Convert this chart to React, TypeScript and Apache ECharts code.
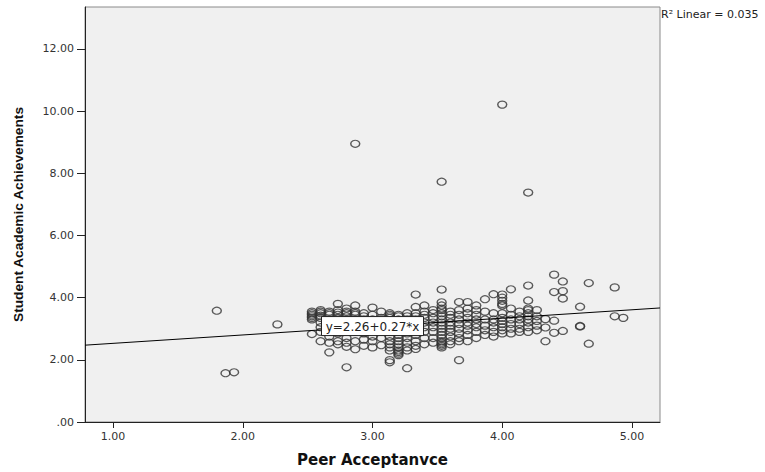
import React, { useEffect, useRef } from "react";
import * as echarts from "echarts";

const xTickValues = [1, 2, 3, 4, 5];
const xRange = [0.784, 5.216];
const yRange = [0, 13.35];
const intercept = 2.26;
const slope = 0.27;
const rSquaredLabel = "R\u00B2 Linear = 0.035";
const equationLabel = "y=2.26+0.27*x";
const equationAnchor = [3.0, 3.07];

// Peer acceptance (x) columns with the student achievement values (y)
const columns: [number, number[]][] = [
  [1.8, [3.58]],
  [1.867, [1.57]],
  [1.933, [1.6]],
  [2.267, [3.14]],
  [2.533, [3.55, 3.5, 3.45, 3.4, 3.35, 3.3, 2.83]],
  [2.6, [3.6, 3.55, 3.5, 3.42, 3.35, 3.2, 3.05, 2.9, 2.6]],
  [2.667, [3.55, 3.5, 3.45, 3.3, 3.1, 2.95, 2.75, 2.55, 2.24]],
  [2.733, [3.8, 3.6, 3.52, 3.45, 3.35, 3.15, 2.85, 2.6, 2.5]],
  [2.8, [3.65, 3.55, 3.5, 3.4, 3.3, 3.2, 3.0, 2.7, 2.55, 2.42, 1.76]],
  [2.867, [8.95, 3.75, 3.55, 3.5, 3.45, 3.3, 3.15, 2.9, 2.6, 2.34]],
  [2.933, [3.5, 3.4, 3.3, 3.2, 3.05, 2.85, 2.65, 2.45]],
  [3.0, [3.68, 3.45, 3.3, 3.1, 2.95, 2.75, 2.6, 2.4]],
  [3.067, [3.55, 3.35, 3.2, 3.05, 2.9, 2.7, 2.47]],
  [3.133, [3.5, 3.45, 3.4, 3.35, 3.2, 3.1, 3.0, 2.9, 2.75, 2.6, 2.5, 2.4, 2.3, 1.99, 1.92]],
  [3.2, [3.45, 3.4, 3.3, 3.2, 3.1, 3.0, 2.9, 2.8, 2.7, 2.6, 2.5, 2.4, 2.3, 2.25, 2.2, 2.15]],
  [3.267, [3.5, 3.4, 3.3, 3.2, 3.1, 3.0, 2.85, 2.7, 2.55, 2.4, 2.3, 1.73]],
  [3.333, [4.1, 3.7, 3.5, 3.4, 3.3, 3.15, 3.0, 2.8, 2.6, 2.45, 2.35]],
  [3.4, [3.75, 3.55, 3.45, 3.35, 3.2, 3.05, 2.9, 2.7, 2.5]],
  [3.467, [3.6, 3.5, 3.35, 3.2, 3.05, 2.9, 2.7, 2.55]],
  [3.533, [7.73, 4.26, 3.85, 3.75, 3.65, 3.6, 3.5, 3.4, 3.3, 3.2, 3.1, 3.0, 2.9, 2.8, 2.7, 2.6, 2.55, 2.5, 2.45, 2.4]],
  [3.6, [3.55, 3.45, 3.35, 3.2, 3.1, 3.0, 2.9, 2.75, 2.6, 2.5]],
  [3.667, [3.86, 3.6, 3.45, 3.3, 3.15, 3.0, 2.85, 2.7, 2.6, 1.99]],
  [3.733, [3.86, 3.65, 3.5, 3.35, 3.2, 3.1, 2.95, 2.8, 2.6]],
  [3.8, [3.75, 3.6, 3.45, 3.3, 3.15, 3.05, 2.9, 2.7]],
  [3.867, [3.95, 3.55, 3.3, 3.1, 2.95, 2.8]],
  [3.933, [4.11, 3.5, 3.3, 3.2, 3.05, 2.9, 2.75]],
  [4.0, [10.21, 4.1, 4.0, 3.9, 3.8, 3.75, 3.5, 3.35, 3.25, 3.15, 3.05, 2.95, 2.85]],
  [4.067, [4.27, 3.65, 3.45, 3.3, 3.15, 3.0, 2.85]],
  [4.133, [3.55, 3.4, 3.3, 3.15, 3.0, 2.9]],
  [4.2, [7.38, 4.39, 3.91, 3.65, 3.6, 3.5, 3.4, 3.3, 3.2, 3.05, 2.9]],
  [4.267, [3.6, 3.4, 3.25, 3.1, 2.95]],
  [4.333, [3.31, 3.04, 2.6]],
  [4.4, [4.74, 4.18, 3.26, 2.87]],
  [4.467, [4.52, 4.21, 3.97, 2.93]],
  [4.6, [3.71, 3.09, 3.07]],
  [4.667, [4.47, 2.52]],
  [4.867, [4.33, 3.4]],
  [4.933, [3.35]],
];

const points = columns.flatMap(([x, ys]) => ys.map((y) => [x, y]));
const fitLine = xRange.map((x) => [x, intercept + slope * x]);

export default function App() {
  const ref = useRef<HTMLDivElement>(null);
  useEffect(() => {
    document.body.style.margin = "0";
    if (!ref.current) return;
    const chart = echarts.init(ref.current, undefined, { renderer: "svg" });
    const tickFamily = "'DejaVu Sans', sans-serif";
    chart.setOption({
      animation: false,
      grid: {
        left: 85,
        top: 7,
        right: 105,
        bottom: 48,
        show: true,
        backgroundColor: "#f0f0f0",
        borderColor: "#8a8a8a",
        borderWidth: 1,
      },
      xAxis: {
        type: "value",
        min: xRange[0],
        max: xRange[1],
        name: "Peer Acceptanvce",
        nameLocation: "middle",
        nameGap: 30,
        nameTextStyle: {
          fontFamily: "'DejaVu Sans', sans-serif",
          fontWeight: "bold",
          fontSize: 15,
          color: "#111",
        },
        splitLine: { show: false },
        axisLine: { show: true, lineStyle: { color: "#222", width: 1 } },
        axisTick: {
          show: true,
          length: 6,
          customValues: xTickValues,
          lineStyle: { color: "#222" },
        },
        axisLabel: {
          customValues: xTickValues,
          formatter: (v: number) => v.toFixed(2),
          color: "#333",
          fontFamily: tickFamily,
          fontSize: 11,
          margin: 9,
        },
      },
      yAxis: {
        type: "value",
        min: yRange[0],
        max: yRange[1],
        interval: 2,
        name: "Student Academic Achievements",
        nameLocation: "middle",
        nameGap: 60,
        nameTextStyle: {
          fontFamily: "'Liberation Sans', Arial, sans-serif",
          fontWeight: "bold",
          fontSize: 13.7,
          color: "#111",
        },
        splitLine: { show: false },
        axisLine: { show: true, lineStyle: { color: "#222", width: 1 } },
        axisTick: { show: true, length: 8, lineStyle: { color: "#222" } },
        axisLabel: {
          formatter: (v: number) => (v === 0 ? ".00" : v.toFixed(2)),
          color: "#333",
          fontFamily: tickFamily,
          fontSize: 11,
          margin: 11,
          showMaxLabel: false,
        },
      },
      series: [
        {
          type: "scatter",
          data: points,
          symbol: "circle",
          symbolSize: [9, 7],
          itemStyle: {
            color: "rgba(0,0,0,0)",
            borderColor: "#333",
            borderWidth: 1.3,
          },
          silent: true,
          z: 2,
        },
        {
          type: "line",
          data: fitLine,
          symbol: "none",
          lineStyle: { color: "#000", width: 1 },
          silent: true,
          z: 3,
        },
      ],
    });
    const [cx, cy] = chart.convertToPixel({ gridIndex: 0 }, equationAnchor) as number[];
    chart.setOption({
      graphic: [
        {
          type: "rect",
          shape: { x: cx - 51, y: cy - 10, width: 102, height: 19 },
          style: { fill: "#fff", stroke: "#222", lineWidth: 1 },
          z: 10,
        },
        {
          type: "text",
          x: cx,
          y: cy,
          style: {
            text: equationLabel,
            font: "12px 'DejaVu Sans', sans-serif",
            fill: "#222",
            align: "center",
            verticalAlign: "middle",
          },
          z: 11,
        },
        {
          type: "text",
          left: 661,
          top: 9,
          style: {
            text: rSquaredLabel,
            font: "11px 'DejaVu Sans', sans-serif",
            fill: "#222",
          },
          z: 11,
        },
      ],
    });
    return () => chart.dispose();
  }, []);
  return <div ref={ref} style={{ width: 765, height: 472 }} />;
}
